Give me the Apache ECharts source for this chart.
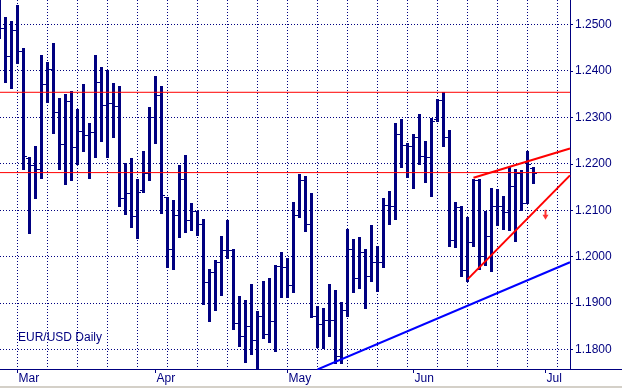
<!DOCTYPE html>
<html><head><meta charset="utf-8">
<script src="https://cdn.jsdelivr.net/npm/echarts@6/dist/echarts.min.js"></script>
<style>html,body{margin:0;padding:0;background:#fff}#c{width:622px;height:388px}</style>
</head><body><div id="c"></div>
<script>
// trading-day index (0 = 1 Mar 2004) of the first bar
const firstDay = -3;
const opens = [1.2530,1.2491,1.2430,1.2488,1.2442,1.2212,1.2196,1.2188,1.2370,1.2404,
1.2311,1.2242,1.2335,1.2235,1.2270,1.2260,1.2268,1.2376,1.2325,1.2329,
1.2324,1.2126,1.2137,1.2086,1.2142,1.2178,1.2300,1.2348,1.2127,1.2016,
1.2088,1.2167,1.2077,1.2097,1.2070,1.1944,1.1965,1.1987,1.2014,1.2014,
1.1855,1.1829,1.1850,1.1820,1.1870,1.1832,1.1860,1.1978,1.1976,1.1937,
1.2088,1.2165,1.2070,1.1872,1.1854,1.1863,1.1862,1.1785,1.1883,1.2016,
1.1953,1.2009,1.1958,1.1987,1.1987,1.2111,1.2108,1.2264,1.2240,1.2237,
1.2257,1.2215,1.2214,1.2295,1.2337,1.2257,1.2034,1.2106,1.1970,1.2030,
1.2163,1.2001,1.2044,1.2108,1.2109,1.2095,1.2150,1.2178,1.2114,1.2190];
const highs = [1.2560,1.2517,1.2507,1.2542,1.2449,1.2214,1.2239,1.2435,1.2419,1.2460,
1.2342,1.2350,1.2356,1.2318,1.2372,1.2287,1.2435,1.2408,1.2401,1.2373,
1.2367,1.2201,1.2212,1.2168,1.2228,1.2322,1.2388,1.2368,1.2129,1.2122,
1.2197,1.2219,1.2115,1.2099,1.2082,1.1973,1.1992,1.2045,1.2079,1.2016,
1.1915,1.1906,1.1942,1.1883,1.1948,1.1955,1.1982,1.2011,1.1996,1.2118,
1.2179,1.2173,1.2138,1.1894,1.1890,1.1942,1.1928,1.1903,1.2059,1.2039,
1.2043,1.2016,1.2068,1.2023,1.2127,1.2142,1.2287,1.2296,1.2244,1.2265,
1.2307,1.2250,1.2299,1.2340,1.2354,1.2273,1.2117,1.2109,1.2086,1.2168,
1.2168,1.2099,1.2147,1.2145,1.2130,1.2192,1.2188,1.2186,1.2228,1.2192];
const lows = [1.2471,1.2376,1.2363,1.2418,1.2188,1.2050,1.2127,1.2169,1.2332,1.2266,
1.2188,1.2156,1.2165,1.2199,1.2227,1.2169,1.2215,1.2250,1.2215,1.2258,
1.2109,1.2091,1.2064,1.2041,1.2140,1.2165,1.2245,1.2095,1.1978,1.1974,
1.2042,1.2053,1.2058,1.2046,1.1897,1.1861,1.1886,1.1917,1.1996,1.1845,
1.1807,1.1773,1.1791,1.1755,1.1825,1.1816,1.1796,1.1913,1.1914,1.1924,
1.2086,1.2055,1.1870,1.1806,1.1804,1.1829,1.1770,1.1771,1.1872,1.1924,
1.1932,1.1890,1.1947,1.1927,1.1978,1.2071,1.2081,1.2192,1.2171,1.2147,
1.2199,1.2161,1.2131,1.2293,1.2239,1.2023,1.2021,1.1958,1.1947,1.2023,
1.1973,1.1983,1.1968,1.2068,1.2059,1.2057,1.2034,1.2100,1.2115,1.2158];
const closes = [1.2491,1.2430,1.2488,1.2442,1.2216,1.2196,1.2188,1.2370,1.2404,1.2311,
1.2242,1.2335,1.2235,1.2270,1.2260,1.2268,1.2376,1.2325,1.2329,1.2324,
1.2126,1.2137,1.2086,1.2138,1.2178,1.2300,1.2348,1.2132,1.2016,1.2088,
1.2167,1.2077,1.2097,1.2070,1.1944,1.1965,1.1987,1.2014,1.2014,1.1855,
1.1829,1.1850,1.1820,1.1870,1.1832,1.1860,1.1978,1.1976,1.1937,1.2088,
1.2165,1.2070,1.1872,1.1854,1.1863,1.1862,1.1785,1.1883,1.2016,1.1953,
1.2009,1.1958,1.1987,1.1987,1.2111,1.2108,1.2264,1.2240,1.2237,1.2257,
1.2215,1.2214,1.2290,1.2337,1.2257,1.2034,1.2106,1.1970,1.2030,1.2163,
1.2001,1.2044,1.2108,1.2109,1.2095,1.2150,1.2178,1.2114,1.2199,1.2178];

const monthTicks = [0, 23, 45, 66, 88];
const monthLabels = ['Mar', 'Apr', 'May', 'Jun', 'Jul'];
const weekTicks = [0,5,10,15,20,25,30,35,40,45,50,55,60,65,70,75,80,85,90];
const priceTicks = [1.18, 1.19, 1.20, 1.21, 1.22, 1.23, 1.24, 1.25];
const resistanceLevels = [1.2354, 1.2181];
const upperWedge = [[76, 1.2170], [92.08, 1.2233]];
const lowerWedge = [[75, 1.1951], [92.08, 1.2175]];
const supportTrend = [[50, 1.1757], [92.08, 1.1988]];
const arrowPoint = [[88, 1.2090]];

const NAVY = '#000080';
const FONT = 'Liberation Sans, Arial, sans-serif';
const X_MIN = -2.916667, X_MAX = 92.083333;
const Y_MIN = 1.1758, Y_MAX = 1.2552769;

const ohlc = opens.map((o, i) => [firstDay + i, o, highs[i], lows[i], closes[i]]);
const snap = p => Math.floor(p) + 0.5;

const levelSeries = resistanceLevels.map(v => ({
  type: 'line', data: [[X_MIN, v], [X_MAX, v]], showSymbol: false, clip: true, z: 3, silent: true,
  lineStyle: {color: '#ff0000', width: 1}
}));

const chart = echarts.init(document.getElementById('c'), null, {renderer: 'canvas'});
chart.setOption({
  animation: false,
  backgroundColor: '#ffffff',
  title: {
    text: 'EUR/USD Daily', left: 18, top: 332, padding: 0,
    textStyle: {color: NAVY, fontSize: 12, fontWeight: 'normal', fontFamily: FONT}
  },
  grid: {left: 0, top: 0, width: 570, height: 369, containLabel: false, outerBoundsMode: 'none'},
  xAxis: {
    type: 'value', min: X_MIN, max: X_MAX, position: 'bottom',
    axisLine: {show: true, onZero: false, lineStyle: {color: NAVY, width: 1}},
    axisTick: {show: true, customValues: monthTicks, length: 4, lineStyle: {color: NAVY}},
    axisLabel: {customValues: monthTicks, align: 'left', margin: 4, padding: [0, 0, 0, 1],
      color: NAVY, fontSize: 12, fontFamily: FONT,
      formatter: v => monthLabels[monthTicks.indexOf(Math.round(v))] || ''},
    splitLine: {show: false}
  },
  yAxis: {
    type: 'value', position: 'right', min: Y_MIN, max: Y_MAX,
    axisLine: {show: true, onZero: false, lineStyle: {color: NAVY, width: 1}},
    axisTick: {show: true, customValues: priceTicks, length: 3, lineStyle: {color: NAVY}},
    axisLabel: {customValues: priceTicks, margin: 5, color: NAVY, fontSize: 12, fontFamily: FONT,
      formatter: v => v.toFixed(4)},
    splitLine: {show: false}
  },
  series: [{
    // weekly vertical dotted grid
    type: 'custom', clip: true, z: 1, silent: true,
    data: weekTicks.map(v => [v, Y_MIN]),
    renderItem: function (params, api) {
      const v = api.value(0);
      const a = api.coord([v, Y_MAX]), b = api.coord([v, Y_MIN]);
      const x = snap(a[0]);
      return {type: 'line', shape: {x1: x, y1: a[1], x2: x, y2: b[1]},
        style: {stroke: NAVY, lineWidth: 1, lineDash: [1, 2]}};
    }
  }, {
    // horizontal dotted grid at price ticks
    type: 'custom', clip: true, z: 1, silent: true,
    data: priceTicks.map(p => [X_MIN, p]),
    renderItem: function (params, api) {
      const p = api.value(1);
      const a = api.coord([X_MIN, p]), b = api.coord([X_MAX, p]);
      const y = snap(a[1]);
      return {type: 'line', shape: {x1: a[0], y1: y, x2: b[0], y2: y},
        style: {stroke: NAVY, lineWidth: 1, lineDash: [1, 2]}};
    }
  }, {
    type: 'custom', clip: true, z: 2,
    encode: {x: 0, y: [2, 3]},
    data: ohlc,
    renderItem: function (params, api) {
      const v = api.value(0);
      const pO = api.coord([v, api.value(1)]);
      const pH = api.coord([v, api.value(2)]);
      const pL = api.coord([v, api.value(3)]);
      const pC = api.coord([v, api.value(4)]);
      const cx = pH[0];
      const top = Math.round(pH[1]), bot = Math.round(pL[1]);
      return {type: 'group', children: [
        {type: 'rect', shape: {x: cx - 1.5, y: top, width: 3, height: bot - top + 1}, style: {fill: NAVY}},
        {type: 'rect', shape: {x: cx - 3.5, y: Math.floor(pO[1]), width: 2, height: 1}, style: {fill: NAVY}},
        {type: 'rect', shape: {x: cx + 1.5, y: Math.floor(pC[1]), width: 2, height: 1}, style: {fill: NAVY}}
      ]};
    }
  },
  ...levelSeries,
  {
    type: 'line', data: supportTrend, showSymbol: false, clip: true, z: 3, silent: true,
    lineStyle: {color: '#0000ff', width: 2}
  }, {
    type: 'line', data: upperWedge, showSymbol: false, clip: true, z: 3, silent: true,
    lineStyle: {color: '#ff0000', width: 2}
  }, {
    type: 'line', data: lowerWedge, showSymbol: false, clip: true, z: 3, silent: true,
    lineStyle: {color: '#ff0000', width: 2}
  }, {
    type: 'scatter', data: arrowPoint, z: 4, silent: true,
    symbol: 'path://M2,0 L4,0 L4,5 L6,5 L3,10 L0,5 L2,5 Z',
    symbolSize: [6, 10], symbolKeepAspect: false,
    itemStyle: {color: '#ff0000'}
  }],
  graphic: [
    {type: 'line', silent: true, shape: {x1: 570, y1: 369.5, x2: 622, y2: 369.5}, style: {stroke: NAVY, lineWidth: 1}},
    {type: 'rect', silent: true, shape: {x: 0, y: 386, width: 622, height: 2}, style: {fill: '#d4d0c8'}}
  ]
});
</script>
</body></html>
